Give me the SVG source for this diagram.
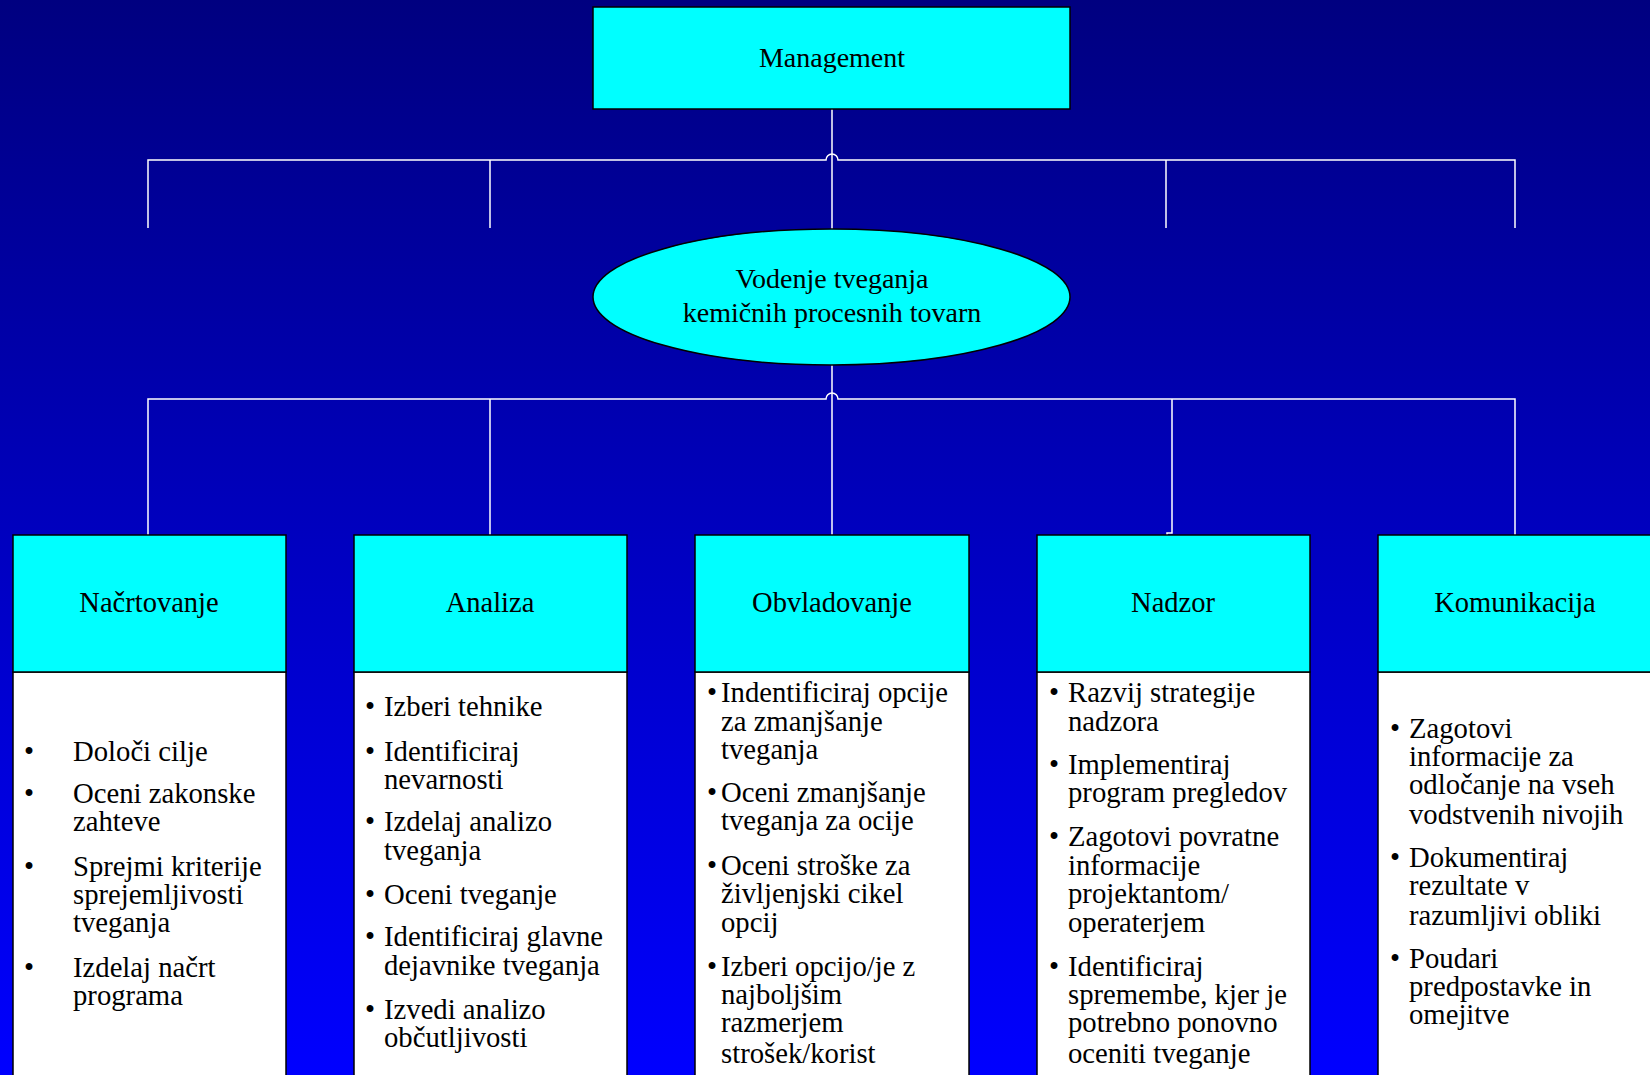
<svg xmlns="http://www.w3.org/2000/svg" width="1650" height="1075" viewBox="0 0 1650 1075">
<defs>
<linearGradient id="bg" x1="0" y1="0" x2="0" y2="1">
<stop offset="0" stop-color="#000080"/>
<stop offset="1" stop-color="#0000FF"/>
</linearGradient>
<style>
.t{font-family:"Liberation Serif","Times New Roman",serif;font-size:28.7px;fill:#000}
.h{font-size:28.5px}
.m{font-size:28px}
.c{text-anchor:middle}
.hd{fill:#00FFFF;stroke:#000;stroke-width:1.5}
.bd{fill:#FFFFFF;stroke:#000;stroke-width:1.5}
.ln{fill:none;stroke:#FFFFFF;stroke-width:1.5}
</style>
</defs>
<rect x="0" y="0" width="1650" height="1075" fill="url(#bg)"/>
<g id="connectors">
<path class="ln" d="M832 109 V229"/>
<path class="ln" d="M148 228 V160 H826 a6 6 0 0 1 12 0 H1515 V228"/>
<path class="ln" d="M490 160 V228"/>
<path class="ln" d="M1166 160 V228"/>
<path class="ln" d="M832 365 V535"/>
<path class="ln" d="M148 535 V399 H826 a6 6 0 0 1 12 0 H1515 V535"/>
<path class="ln" d="M490 399 V535"/>
<path class="ln" d="M1172 399 V533 H1167 V535"/>
</g>
<g id="management">
<rect class="hd" x="593" y="7" width="477" height="102"/>
<text class="t m c" x="832" y="67">Management</text>
</g>
<g id="vodenje">
<ellipse class="hd" cx="831.5" cy="297" rx="238.5" ry="68"/>
<text class="t m c" x="832" y="288">Vodenje tveganja</text>
<text class="t m c" x="832" y="322">kemičnih procesnih tovarn</text>
</g>
<g id="nacrtovanje">
<rect class="bd" x="13" y="672" width="273" height="420"/>
<rect class="hd" x="13" y="535" width="273" height="137"/>
<text class="t h c" x="149" y="612">Načrtovanje</text>
<text class="t" x="24" y="761">•</text><text class="t" x="73" y="761">Določi cilje</text>
<text class="t" x="24" y="803">•</text><text class="t" x="73" y="803">Oceni zakonske</text>
<text class="t" x="73" y="831">zahteve</text>
<text class="t" x="24" y="876">•</text><text class="t" x="73" y="876">Sprejmi kriterije</text>
<text class="t" x="73" y="904">sprejemljivosti</text>
<text class="t" x="73" y="932">tveganja</text>
<text class="t" x="24" y="977">•</text><text class="t" x="73" y="977">Izdelaj  načrt</text>
<text class="t" x="73" y="1005">programa</text>
</g>
<g id="analiza">
<rect class="bd" x="354" y="672" width="273" height="420"/>
<rect class="hd" x="354" y="535" width="273" height="137"/>
<text class="t h c" x="490" y="612">Analiza</text>
<text class="t" x="365" y="716">•</text><text class="t" x="384" y="716">Izberi tehnike</text>
<text class="t" x="365" y="761">•</text><text class="t" x="384" y="761">Identificiraj</text>
<text class="t" x="384" y="789">nevarnosti</text>
<text class="t" x="365" y="831">•</text><text class="t" x="384" y="831">Izdelaj analizo</text>
<text class="t" x="384" y="860">tveganja</text>
<text class="t" x="365" y="904">•</text><text class="t" x="384" y="904">Oceni tveganje</text>
<text class="t" x="365" y="946">•</text><text class="t" x="384" y="946">Identificiraj glavne</text>
<text class="t" x="384" y="975">dejavnike tveganja</text>
<text class="t" x="365" y="1019">•</text><text class="t" x="384" y="1019">Izvedi analizo</text>
<text class="t" x="384" y="1047">občutljivosti</text>
</g>
<g id="obvladovanje">
<rect class="bd" x="695" y="672" width="274" height="420"/>
<rect class="hd" x="695" y="535" width="274" height="137"/>
<text class="t h c" x="832" y="612">Obvladovanje</text>
<text class="t" x="707" y="702">•</text><text class="t" x="721" y="702">Indentificiraj opcije</text>
<text class="t" x="721" y="731">za zmanjšanje</text>
<text class="t" x="721" y="759">tveganja</text>
<text class="t" x="707" y="802">•</text><text class="t" x="721" y="802">Oceni zmanjšanje</text>
<text class="t" x="721" y="830">tveganja za ocije</text>
<text class="t" x="707" y="875">•</text><text class="t" x="721" y="875">Oceni stroške za</text>
<text class="t" x="721" y="903">življenjski cikel</text>
<text class="t" x="721" y="932">opcij</text>
<text class="t" x="707" y="976">•</text><text class="t" x="721" y="976">Izberi opcijo/je z</text>
<text class="t" x="721" y="1004">najboljšim</text>
<text class="t" x="721" y="1032">razmerjem</text>
<text class="t" x="721" y="1063">strošek/korist</text>
</g>
<g id="nadzor">
<rect class="bd" x="1037" y="672" width="273" height="420"/>
<rect class="hd" x="1037" y="535" width="273" height="137"/>
<text class="t h c" x="1173" y="612">Nadzor</text>
<text class="t" x="1049" y="702">•</text><text class="t" x="1068" y="702">Razvij strategije</text>
<text class="t" x="1068" y="731">nadzora</text>
<text class="t" x="1049" y="774">•</text><text class="t" x="1068" y="774">Implementiraj</text>
<text class="t" x="1068" y="802">program pregledov</text>
<text class="t" x="1049" y="846">•</text><text class="t" x="1068" y="846">Zagotovi povratne</text>
<text class="t" x="1068" y="875">informacije</text>
<text class="t" x="1068" y="903">projektantom/</text>
<text class="t" x="1068" y="932">operaterjem</text>
<text class="t" x="1049" y="976">•</text><text class="t" x="1068" y="976">Identificiraj</text>
<text class="t" x="1068" y="1004">spremembe, kjer je</text>
<text class="t" x="1068" y="1032">potrebno ponovno</text>
<text class="t" x="1068" y="1063">oceniti tveganje</text>
</g>
<g id="komunikacija">
<rect class="bd" x="1378" y="672" width="290" height="420"/>
<rect class="hd" x="1378" y="535" width="290" height="137"/>
<text class="t h c" x="1515" y="612">Komunikacija</text>
<text class="t" x="1390" y="738">•</text><text class="t" x="1409" y="738">Zagotovi</text>
<text class="t" x="1409" y="766">informacije za</text>
<text class="t" x="1409" y="794">odločanje na vseh</text>
<text class="t" x="1409" y="824">vodstvenih nivojih</text>
<text class="t" x="1390" y="867">•</text><text class="t" x="1409" y="867">Dokumentiraj</text>
<text class="t" x="1409" y="895">rezultate v</text>
<text class="t" x="1409" y="925">razumljivi obliki</text>
<text class="t" x="1390" y="968">•</text><text class="t" x="1409" y="968">Poudari</text>
<text class="t" x="1409" y="996">predpostavke in</text>
<text class="t" x="1409" y="1024">omejitve</text>
</g>
</svg>
